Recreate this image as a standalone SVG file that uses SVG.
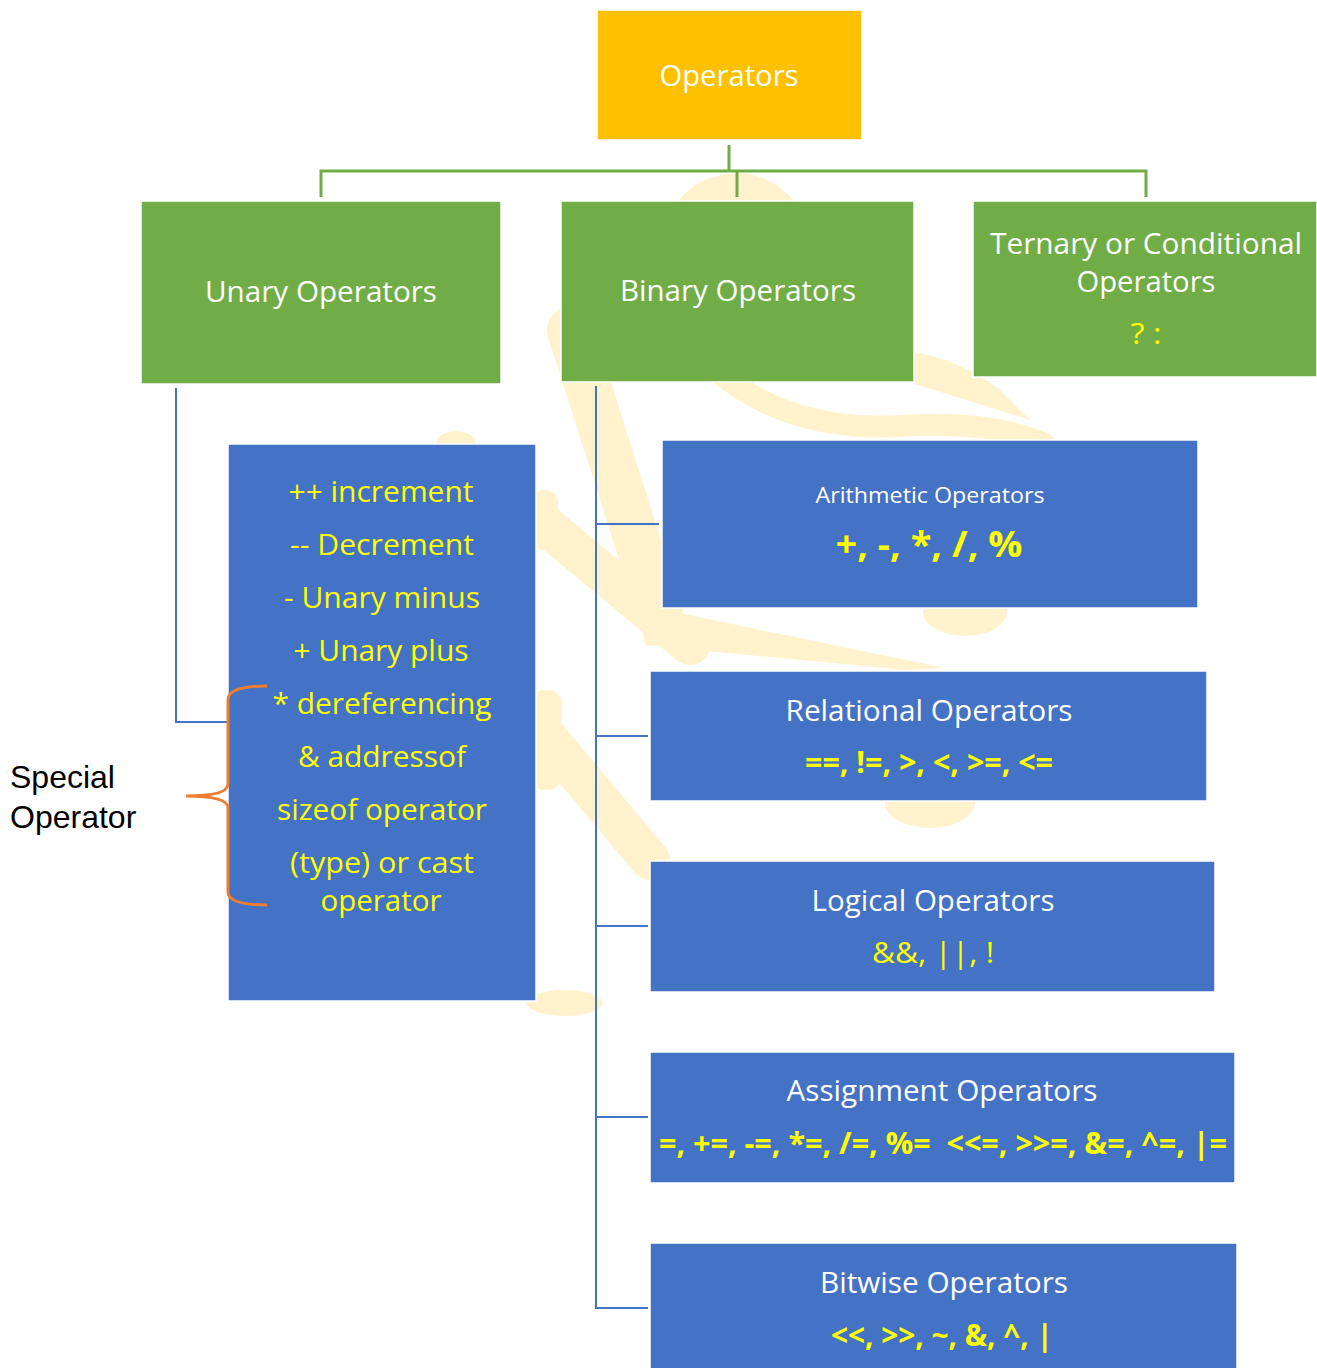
<svg xmlns="http://www.w3.org/2000/svg" width="1317" height="1368" viewBox="0 0 1317 1368">
<style>
.t{font-family:"Open Sans","Noto Sans",sans-serif;text-anchor:middle}
.w{fill:#ffffff}
.y{fill:#FFFF00}
.b{font-weight:bold}
.green{fill:#70AD47;stroke:#ffffff;stroke-width:1.5}
.blue{fill:#4472C4;stroke:#ffffff;stroke-width:1.5}
.gc{stroke:#70AD47;stroke-width:3;fill:none}
.bc{stroke:#4472C4;stroke-width:2;fill:none}
.wm{fill:#FFF2CC;stroke:none}
.wms{stroke:#FFF2CC;fill:none;stroke-linecap:round}
</style>
<rect width="1317" height="1368" fill="#ffffff"/>
<g id="watermark">
<path class="wm" d="M 677 202 Q 700 172 745 173 Q 778 180 795 202 Z"/>
<line class="wms" x1="570" y1="330" x2="660" y2="612" stroke-width="46"/>
<path class="wms" d="M 718 372 Q 790 432 900 426 Q 990 420 1045 444" stroke-width="22"/>
<path class="wm" d="M 915 352 Q 960 360 1000 390 L 1030 420 L 915 384 Z"/>
<line class="wms" x1="545" y1="525" x2="690" y2="645" stroke-width="40"/>
<path class="wm" d="M 640 605 L 945 668 L 905 670 L 645 645 Z"/>
<ellipse class="wm" cx="965" cy="612" rx="42" ry="24"/>
<line class="wms" x1="545" y1="735" x2="650" y2="860" stroke-width="40"/>
<ellipse class="wm" cx="930" cy="803" rx="45" ry="25"/>
<ellipse class="wm" cx="456" cy="444" rx="20" ry="13"/>
<ellipse class="wm" cx="565" cy="1003" rx="38" ry="13"/>
<rect class="wm" x="530" y="490" width="28" height="60" rx="12"/>
<rect class="wm" x="530" y="690" width="32" height="100" rx="14"/>
</g>
<g id="connectors">
<polyline class="gc" points="729,145 729,171"/>
<polyline class="gc" points="321,197 321,171 1146,171 1146,197"/>
<polyline class="gc" points="737,171 737,197"/>
<polyline class="bc" points="176,388 176,722 228,722"/>
<polyline class="bc" points="596,386 596,1308 648,1308"/>
<line class="bc" x1="596" y1="524" x2="659" y2="524"/>
<line class="bc" x1="596" y1="736" x2="648" y2="736"/>
<line class="bc" x1="596" y1="926" x2="648" y2="926"/>
<line class="bc" x1="596" y1="1117" x2="648" y2="1117"/>
</g>
<g id="operators">
<rect x="597" y="10" width="265" height="130" fill="#FFC000" stroke="#ffffff" stroke-width="1.5"/>
<text class="t w" x="729" y="86" font-size="30" textLength="139" lengthAdjust="spacingAndGlyphs">Operators</text>
</g>
<g id="unary">
<rect class="green" x="141" y="201" width="360" height="183"/>
<text class="t w" x="321" y="302" font-size="30" textLength="232" lengthAdjust="spacingAndGlyphs">Unary Operators</text>
</g>
<g id="binary">
<rect class="green" x="561" y="201" width="353" height="181"/>
<text class="t w" x="738" y="301" font-size="30" textLength="236" lengthAdjust="spacingAndGlyphs">Binary Operators</text>
</g>
<g id="ternary">
<rect class="green" x="973" y="201" width="344" height="176"/>
<text class="t w" x="1146" y="254" font-size="30" textLength="312" lengthAdjust="spacingAndGlyphs">Ternary or Conditional</text>
<text class="t w" x="1146" y="292" font-size="30" textLength="139" lengthAdjust="spacingAndGlyphs">Operators</text>
<text class="t y" x="1146" y="344" font-size="30" textLength="31" lengthAdjust="spacingAndGlyphs">? :</text>
</g>
<g id="unary-list">
<rect class="blue" x="228" y="444" width="308" height="557"/>
<text class="t y" x="381" y="502" font-size="30" textLength="185" lengthAdjust="spacingAndGlyphs">++ increment</text>
<text class="t y" x="382" y="555" font-size="30" textLength="184" lengthAdjust="spacingAndGlyphs">-- Decrement</text>
<text class="t y" x="382" y="608" font-size="30" textLength="196" lengthAdjust="spacingAndGlyphs">- Unary minus</text>
<text class="t y" x="381" y="661" font-size="30" textLength="175" lengthAdjust="spacingAndGlyphs">+ Unary plus</text>
<text class="t y" x="382" y="714" font-size="30" textLength="219" lengthAdjust="spacingAndGlyphs">* dereferencing</text>
<text class="t y" x="382" y="767" font-size="30" textLength="168" lengthAdjust="spacingAndGlyphs">&amp; addressof</text>
<text class="t y" x="382" y="820" font-size="30" textLength="210" lengthAdjust="spacingAndGlyphs">sizeof operator</text>
<text class="t y" x="382" y="873" font-size="30" textLength="184" lengthAdjust="spacingAndGlyphs">(type) or cast</text>
<text class="t y" x="381" y="911" font-size="30" textLength="121" lengthAdjust="spacingAndGlyphs">operator</text>
</g>
<g id="special">
<path d="M 267 686 Q 228 686 228 700 L 228 784 Q 228 796 186 796 Q 228 796 228 808 L 228 892 Q 228 905 267 905" fill="none" stroke="#ED7D31" stroke-width="3"/>
<text x="10" y="788" font-family="'Liberation Sans',Arial,sans-serif" font-size="32" fill="#000000">Special</text>
<text x="10" y="828" font-family="'Liberation Sans',Arial,sans-serif" font-size="32" fill="#000000">Operator</text>
</g>
<g id="arithmetic">
<rect class="blue" x="662" y="440" width="536" height="168"/>
<text class="t w" x="930" y="503" font-size="22" textLength="229" lengthAdjust="spacingAndGlyphs">Arithmetic Operators</text>
<text class="t y b" x="929" y="557" font-size="36" textLength="187" lengthAdjust="spacingAndGlyphs">+, -, *, /, %</text>
</g>
<g id="relational">
<rect class="blue" x="650" y="671" width="557" height="130"/>
<text class="t w" x="929" y="721" font-size="30" textLength="287" lengthAdjust="spacingAndGlyphs">Relational Operators</text>
<text class="t y b" x="929" y="773" font-size="30" textLength="248" lengthAdjust="spacingAndGlyphs">==, !=, &gt;, &lt;, &gt;=, &lt;=</text>
</g>
<g id="logical">
<rect class="blue" x="650" y="861" width="565" height="131"/>
<text class="t w" x="933" y="911" font-size="30" textLength="243" lengthAdjust="spacingAndGlyphs">Logical Operators</text>
<text class="t y" x="933" y="963" font-size="30" textLength="122" lengthAdjust="spacingAndGlyphs">&amp;&amp;, ||, !</text>
</g>
<g id="assignment">
<rect class="blue" x="650" y="1052" width="585" height="131"/>
<text class="t w" x="942" y="1101" font-size="30" textLength="311" lengthAdjust="spacingAndGlyphs">Assignment Operators</text>
<text class="t y b" x="943" y="1154" font-size="30" textLength="568" lengthAdjust="spacingAndGlyphs" xml:space="preserve">=, +=, -=, *=, /=, %=  &lt;&lt;=, &gt;&gt;=, &amp;=, ^=, |=</text>
</g>
<g id="bitwise">
<rect class="blue" x="650" y="1243" width="587" height="130"/>
<text class="t w" x="944" y="1293" font-size="30" textLength="248" lengthAdjust="spacingAndGlyphs">Bitwise Operators</text>
<text class="t y b" x="942" y="1346" font-size="30" textLength="222" lengthAdjust="spacingAndGlyphs">&lt;&lt;, &gt;&gt;, ~, &amp;, ^, |</text>
</g>
</svg>
